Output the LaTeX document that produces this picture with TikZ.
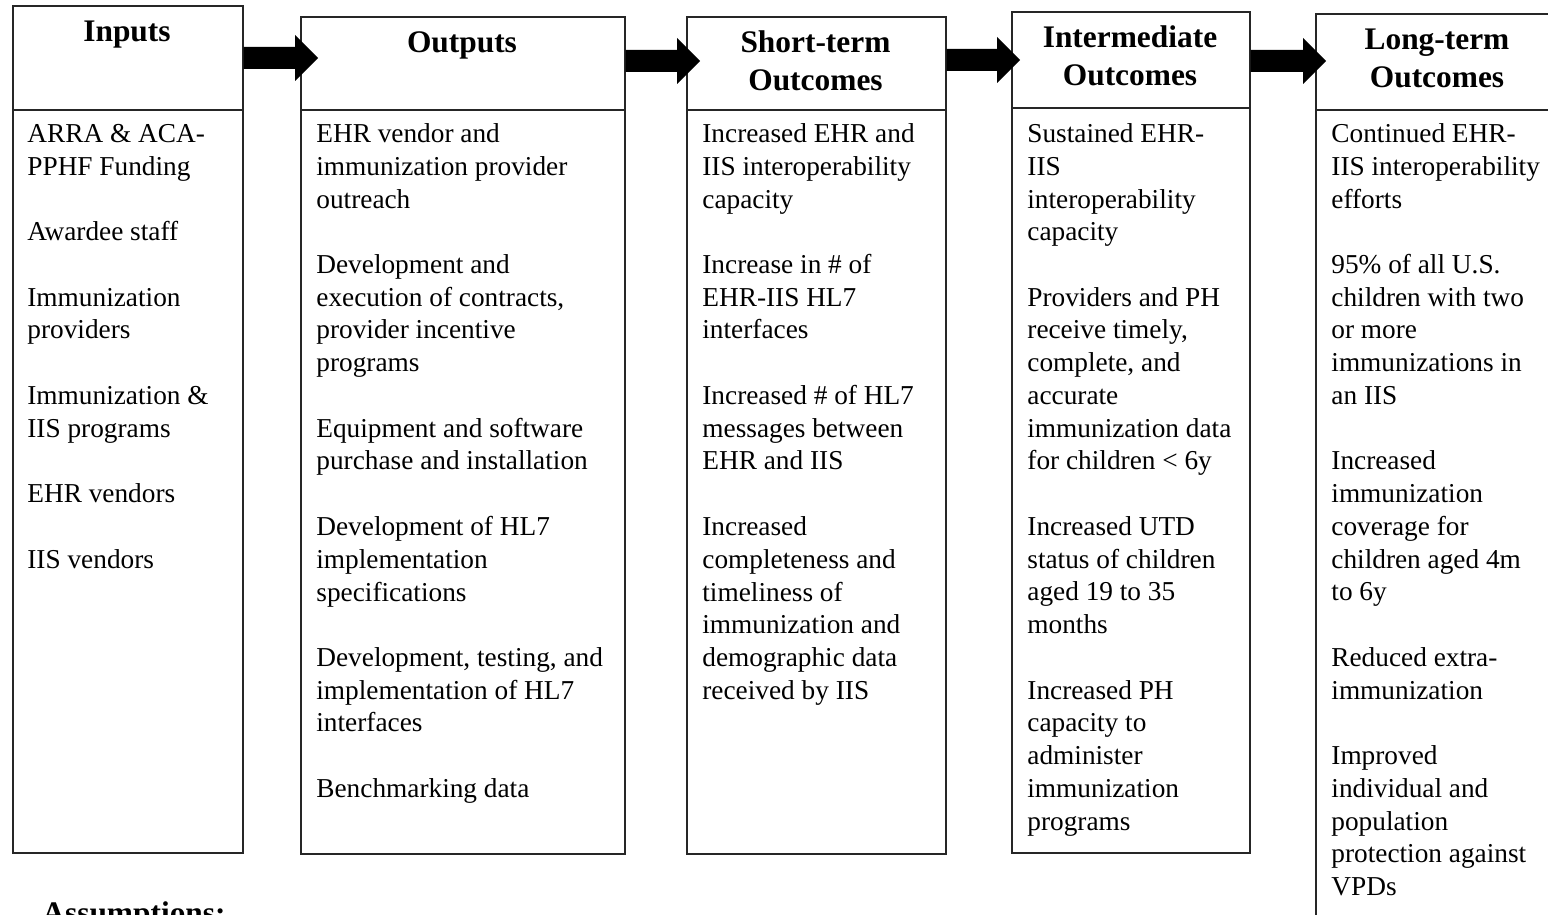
\documentclass[tikz,border=0pt]{standalone}
\usepackage{fontspec}
\setmainfont{Liberation Serif}
\usetikzlibrary{calc}
\newcommand{\colbody}[1]{\vtop{\baselineskip=16.375pt\lineskiplimit=-100pt\lineskip=0pt #1}}
\newcommand{\ttltwo}[2]{\vtop{\baselineskip=18.75pt\lineskiplimit=-100pt\lineskip=0pt\halign{\hfil##\hfil\cr #1\cr #2\cr}}}
\newcommand{\bl}{\hbox{}}
\tikzset{
  boxline/.style={draw=black!85, line width=0.8pt, rectangle, inner sep=0pt, anchor=north west},
  title/.style={font=\bfseries\fontsize{15.7}{18.75}\selectfont, anchor=base, inner sep=0pt},
  bodytext/.style={font=\fontsize{13.65}{16.375}\selectfont, anchor=base west, inner sep=0pt},
  blockarrow/.style={fill=black, to path={let \p1=(\tikztostart), \p2=(\tikztotarget) in
      (\x1,\y1+5.5pt) -- (\x2-11.5pt,\y1+5.5pt) -- (\x2-11.5pt,\y1+11.5pt) -- (\x2,\y1)
      -- (\x2-11.5pt,\y1-11.5pt) -- (\x2-11.5pt,\y1-5.5pt) -- (\x1,\y1-5.5pt) -- cycle}},
}
\begin{document}
\begin{tikzpicture}[x=0.5pt,y=-0.5pt]
\useasboundingbox (0,0) rectangle (1548,915);
\fill[white] (0,0) rectangle (1548,915);

% boxes
\node[boxline, minimum width=115pt, minimum height=52pt] (inH) at (12,5) {};
\node[boxline, minimum width=115pt, minimum height=371.5pt] (inB) at (12,109) {};
\node[boxline, minimum width=162pt, minimum height=46.5pt] (outH) at (300,16) {};
\node[boxline, minimum width=162pt, minimum height=372pt] (outB) at (300,109) {};
\node[boxline, minimum width=129.5pt, minimum height=46.5pt] (stH) at (686,16) {};
\node[boxline, minimum width=129.5pt, minimum height=372pt] (stB) at (686,109) {};
\node[boxline, minimum width=119pt, minimum height=48pt] (imH) at (1011,11) {};
\node[boxline, minimum width=119pt, minimum height=372.5pt] (imB) at (1011,107) {};
\node[boxline, minimum width=122pt, minimum height=48pt] (ltH) at (1315,13) {};
\node[boxline, minimum width=122pt, minimum height=413pt] (ltB) at (1315,109) {};

% titles
\node[title] (inT) at (127,42) {Inputs};
\node[title] (outT) at (462,53) {Outputs};
\node[title] (stT) at (815.5,53) {\ttltwo{Short-term}{Outcomes}};
\node[title] (imT) at (1130,48) {\ttltwo{Intermediate}{Outcomes}};
\node[title] (ltT) at (1437,50) {\ttltwo{Long-term}{Outcomes}};

% arrows
\coordinate (t1) at (318,58);
\coordinate (t2) at (700,61);
\coordinate (t3) at (1020,60);
\coordinate (t4) at (1326,61);
\path[blockarrow] (inH.east |- t1) to (t1);
\path[blockarrow] (outH.east |- t2) to (t2);
\path[blockarrow] (stH.east |- t3) to (t3);
\path[blockarrow] (imH.east |- t4) to (t4);

% body texts
\node[bodytext] (inX) at (27,142.5) {\colbody{%
\hbox{ARRA \& ACA-}\hbox{PPHF Funding}\bl
\hbox{Awardee staff}\bl
\hbox{Immunization}\hbox{providers}\bl
\hbox{Immunization \&}\hbox{IIS programs}\bl
\hbox{EHR vendors}\bl
\hbox{IIS vendors}}};

\node[bodytext] (outX) at (316,142.5) {\colbody{%
\hbox{EHR vendor and}\hbox{immunization provider}\hbox{outreach}\bl
\hbox{Development and}\hbox{execution of contracts,}\hbox{provider incentive}\hbox{programs}\bl
\hbox{Equipment and software}\hbox{purchase and installation}\bl
\hbox{Development of HL7}\hbox{implementation}\hbox{specifications}\bl
\hbox{Development, testing, and}\hbox{implementation of HL7}\hbox{interfaces}\bl
\hbox{Benchmarking data}}};

\node[bodytext] (stX) at (702,142.5) {\colbody{%
\hbox{Increased EHR and}\hbox{IIS interoperability}\hbox{capacity}\bl
\hbox{Increase in \# of}\hbox{EHR-IIS HL7}\hbox{interfaces}\bl
\hbox{Increased \# of HL7}\hbox{messages between}\hbox{EHR and IIS}\bl
\hbox{Increased}\hbox{completeness and}\hbox{timeliness of}\hbox{immunization and}\hbox{demographic data}\hbox{received by IIS}}};

\node[bodytext] (imX) at (1027,142.5) {\colbody{%
\hbox{Sustained EHR-}\hbox{IIS}\hbox{interoperability}\hbox{capacity}\bl
\hbox{Providers and PH}\hbox{receive timely,}\hbox{complete, and}\hbox{accurate}\hbox{immunization data}\hbox{for children < 6y}\bl
\hbox{Increased UTD}\hbox{status of children}\hbox{aged 19 to 35}\hbox{months}\bl
\hbox{Increased PH}\hbox{capacity to}\hbox{administer}\hbox{immunization}\hbox{programs}}};

\node[bodytext] (ltX) at (1331,142.5) {\colbody{%
\hbox{Continued EHR-}\hbox{IIS interoperability}\hbox{efforts}\bl
\hbox{95\% of all U.S.}\hbox{children with two}\hbox{or more}\hbox{immunizations in}\hbox{an IIS}\bl
\hbox{Increased}\hbox{immunization}\hbox{coverage for}\hbox{children aged 4m}\hbox{to 6y}\bl
\hbox{Reduced extra-}\hbox{immunization}\bl
\hbox{Improved}\hbox{individual and}\hbox{population}\hbox{protection against}\hbox{VPDs}}};

% assumptions
\node[title, anchor=base west] (asm) at (42,923) {Assumptions:};
\end{tikzpicture}
\end{document}
